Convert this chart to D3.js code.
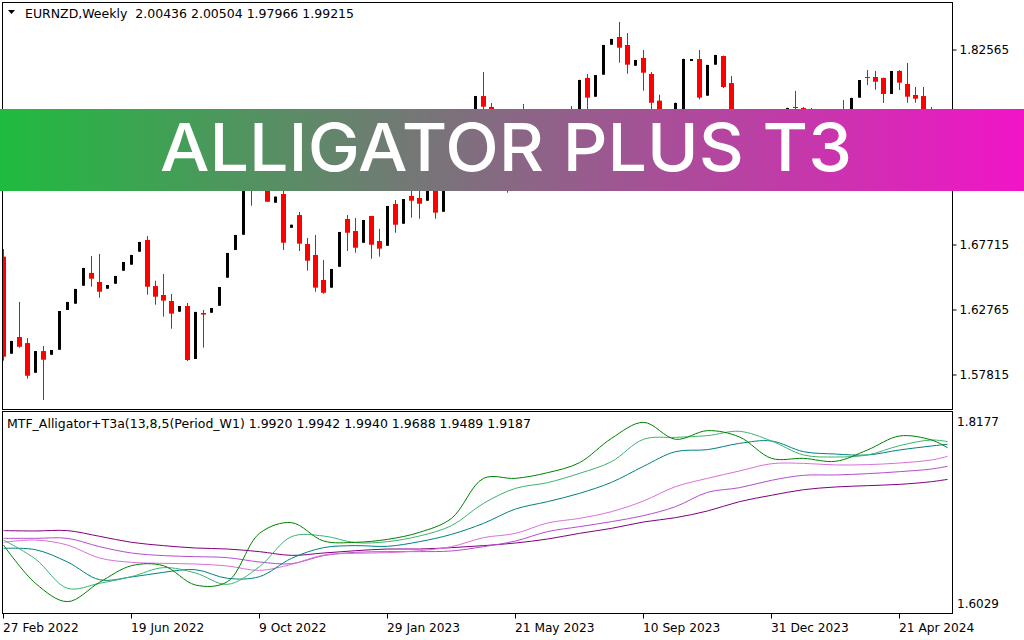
<!DOCTYPE html>
<html><head><meta charset="utf-8">
<script src="https://cdn.jsdelivr.net/npm/d3@7"></script>
<style>body{margin:0;background:#fff;}svg{display:block}</style>
</head><body>
<svg id="c" width="1024" height="640"></svg>
<script>
// ---------- DATA ----------
const symbolTitle = "EURNZD,Weekly  2.00436 2.00504 1.97966 1.99215";
const indicatorTitle = "MTF_Alligator+T3a(13,8,5(Period_W1) 1.9920 1.9942 1.9940 1.9688 1.9489 1.9187";
const bannerText = "ALLIGATOR PLUS T3";

const openP = [1.6679,1.5940,1.6067,1.6021,1.5795,1.5960,1.5932,1.5970,1.6273,1.6321,
1.6458,1.6555,1.6486,1.6435,1.6473,1.6572,1.6618,1.6717,1.6806,1.6455,
1.6387,1.6341,1.6260,1.6303,1.5900,1.6250,1.6252,1.6305,1.6519,1.6730,
1.6846,1.7324,1.7217,1.7354,1.7090,1.7156,1.6899,1.6996,1.6775,1.6692,
1.6501,1.6443,1.6602,1.6966,1.6874,1.6785,1.6989,1.6798,1.6762,1.7080,
1.6930,1.7141,1.7126,1.7105,1.7278,1.7021,1.7415,1.7567,1.7491,1.7682,
1.7902,1.7819,1.7659,1.7491,1.7301,1.7720,1.7491,1.7567,1.7644,1.7529,
1.7644,1.7758,1.7644,1.8040,1.7897,1.8065,1.8293,1.8352,1.8291,1.8133,
1.8192,1.8070,1.7867,1.7644,1.7682,1.7781,1.8169,1.8184,1.7905,1.8141,
1.8207,1.8001,1.7644,1.7529,1.7605,1.7453,1.7567,1.7529,1.7720,1.7819,
1.7811,1.7720,1.7682,1.7735,1.7644,1.7781,1.7682,1.7890,1.8047,1.8047,
1.8040,1.7918,1.8093,1.7994,1.7910,1.7902,1.7735];
const highP = [1.6737,1.6037,1.6334,1.6059,1.5960,1.5999,1.5968,1.6265,1.6334,1.6433,
1.6593,1.6684,1.6699,1.6463,1.6532,1.6638,1.6692,1.6791,1.6836,1.6496,
1.6547,1.6395,1.6303,1.6326,1.6258,1.6273,1.6288,1.6448,1.6707,1.6844,
1.7278,1.7377,1.7415,1.7415,1.7136,1.7248,1.6922,1.7019,1.6821,1.6844,
1.6654,1.6585,1.6867,1.6996,1.6973,1.6958,1.6989,1.6890,1.7065,1.7110,
1.7118,1.7225,1.7225,1.7310,1.7324,1.7453,1.7605,1.7644,1.7720,1.7903,
1.8085,1.7849,1.7735,1.7567,1.7758,1.7842,1.7605,1.7682,1.7720,1.7682,
1.7758,1.7826,1.8026,1.8070,1.8062,1.8291,1.8337,1.8466,1.8382,1.8177,
1.8253,1.8085,1.7912,1.7758,1.7852,1.8186,1.8184,1.8253,1.8139,1.8215,
1.8210,1.8055,1.7720,1.7659,1.7682,1.7605,1.7644,1.7735,1.7813,1.7941,
1.7819,1.7811,1.7758,1.7781,1.7796,1.7872,1.7889,1.8024,1.8100,1.8093,
1.8042,1.8093,1.8100,1.8154,1.7971,1.7971,1.7819];
const lowP = [1.5887,1.5940,1.5986,1.5750,1.5795,1.5587,1.5932,1.5970,1.6273,1.6321,
1.6458,1.6450,1.6366,1.6435,1.6473,1.6572,1.6618,1.6717,1.6389,1.6313,
1.6222,1.6130,1.6260,1.5884,1.5900,1.5986,1.6252,1.6305,1.6519,1.6730,
1.6846,1.7067,1.7202,1.7095,1.7090,1.6730,1.6899,1.6722,1.6572,1.6412,
1.6397,1.6443,1.6602,1.6722,1.6709,1.6785,1.6663,1.6679,1.6762,1.6861,
1.6930,1.6976,1.6968,1.7105,1.6968,1.7021,1.7377,1.7430,1.7453,1.7659,
1.7758,1.7605,1.7491,1.7166,1.7263,1.7415,1.7377,1.7491,1.7453,1.7491,
1.7605,1.7567,1.7605,1.7758,1.7897,1.8065,1.8293,1.8156,1.8072,1.8133,
1.7943,1.7758,1.7567,1.7529,1.7659,1.7758,1.8169,1.7877,1.7905,1.8141,
1.7963,1.7605,1.7491,1.7491,1.7415,1.7377,1.7491,1.7506,1.7682,1.7735,
1.7659,1.7605,1.7644,1.7605,1.7605,1.7644,1.7659,1.7890,1.7986,1.7950,
1.7849,1.7918,1.7948,1.7851,1.7851,1.7682,1.7682];
const closeP = [1.5917,1.6037,1.5993,1.5772,1.5960,1.5894,1.5968,1.6265,1.6334,1.6433,
1.6593,1.6511,1.6412,1.6463,1.6532,1.6638,1.6692,1.6791,1.6450,1.6374,
1.6344,1.6245,1.6303,1.5892,1.6258,1.6238,1.6288,1.6448,1.6707,1.6844,
1.7263,1.7202,1.7377,1.7097,1.7136,1.6785,1.6922,1.6778,1.6648,1.6443,
1.6404,1.6585,1.6867,1.6861,1.6747,1.6958,1.6770,1.6740,1.7065,1.6922,
1.7118,1.7105,1.7082,1.7301,1.7014,1.7415,1.7567,1.7491,1.7682,1.7902,
1.7821,1.7659,1.7529,1.7301,1.7720,1.7491,1.7567,1.7644,1.7529,1.7644,
1.7720,1.7644,1.8024,1.7890,1.8062,1.8291,1.8337,1.8270,1.8141,1.8177,
1.8080,1.7851,1.7644,1.7682,1.7849,1.8184,1.8184,1.7890,1.8139,1.8215,
1.7971,1.7644,1.7529,1.7605,1.7453,1.7567,1.7529,1.7720,1.7811,1.7811,
1.7720,1.7682,1.7735,1.7644,1.7758,1.7682,1.7887,1.8024,1.8040,1.8011,
1.7918,1.8093,1.8004,1.7897,1.7882,1.7735,1.7720];

const priceTicks = [1.82565,1.77615,1.72665,1.67715,1.62765,1.57815];
const dateTickIdx = [0,16,32,48,64,80,96,112];
const dateTickLabels = ["27 Feb 2022","19 Jun 2022","9 Oct 2022","29 Jan 2023","21 May 2023","10 Sep 2023","31 Dec 2023","21 Apr 2024"];
const indLabels = [1.8177,1.6029];

// indicator lines sampled every 4 weekly bars (bar index)
const indIdx = [0,4,8,12,16,20,24,28,32,36,40,44,48,52,56,60,64,68,72,76,80,84,88,92,96,100,104,108,112,116,118];
const lipsFast = [1.6719,1.6267,1.6051,1.6279,1.6475,1.6475,1.6247,1.6287,1.6857,1.6983,1.6767,1.6751,1.6786,1.6869,1.7034,1.7506,1.7506,1.7573,1.7691,1.7978,1.8167,1.7967,1.8069,1.7994,1.7742,1.7742,1.7707,1.7841,1.8006,1.7959,1.7868];
const teethFast = [1.6778,1.6554,1.6208,1.6267,1.6346,1.6452,1.6389,1.6255,1.6464,1.6818,1.6826,1.6747,1.6759,1.6826,1.6948,1.7211,1.7388,1.7455,1.7565,1.7703,1.7967,1.7990,1.8010,1.8061,1.7947,1.7782,1.7758,1.7782,1.7892,1.7959,1.7939];
const jawFast = [1.6680,1.6664,1.6519,1.6310,1.6342,1.6397,1.6428,1.6326,1.6346,1.6562,1.6688,1.6712,1.6704,1.6759,1.6845,1.6975,1.7144,1.7231,1.7329,1.7459,1.7648,1.7821,1.7845,1.7919,1.7947,1.7821,1.7793,1.7782,1.7841,1.7888,1.7908];
const lipsT3 = [1.6751,1.6778,1.6719,1.6566,1.6515,1.6503,1.6495,1.6472,1.6420,1.6491,1.6601,1.6621,1.6629,1.6652,1.6700,1.6806,1.6857,1.6979,1.7034,1.7113,1.7239,1.7408,1.7506,1.7593,1.7679,1.7683,1.7664,1.7668,1.7687,1.7723,1.7766];
const teethT3 = [1.6798,1.6798,1.6798,1.6700,1.6625,1.6594,1.6582,1.6570,1.6519,1.6499,1.6594,1.6633,1.6641,1.6641,1.6649,1.6700,1.6767,1.6877,1.6936,1.6995,1.7066,1.7172,1.7341,1.7396,1.7483,1.7542,1.7546,1.7561,1.7585,1.7616,1.7648];
const jawT3 = [1.6889,1.6885,1.6889,1.6822,1.6751,1.6712,1.6684,1.6672,1.6641,1.6597,1.6625,1.6652,1.6672,1.6672,1.6688,1.6712,1.6743,1.6790,1.6857,1.6916,1.6991,1.7042,1.7121,1.7231,1.7306,1.7372,1.7404,1.7420,1.7435,1.7467,1.7494];

const seriesList = [
  {vals: jawT3, color: "#800080"},
  {vals: teethT3, color: "#B54CCF"},
  {vals: lipsT3, color: "#DA70D6"},
  {vals: jawFast, color: "#008080"},
  {vals: teethFast, color: "#3CB371"},
  {vals: lipsFast, color: "#008000"}
];

// ---------- CHART ----------
const svg = d3.select("#c");
const FONT = "DejaVu Sans, Verdana, sans-serif";
const paneL = 2.5, paneR = 952.5, mainT = 2.5, mainB = 409.5, indT = 411.5, indB = 613.5;

const x = d3.scaleLinear().domain([0, 118]).range([3.5, 947.5]);
const y = d3.scaleLinear().domain([1.57815, 1.82565]).range([374.5, 49.5]);
const yi = d3.scaleLinear().domain([1.6029, 1.8177]).range([603.5, 421.5]);

svg.append("rect").attr("width",1024).attr("height",640).attr("fill","#fff");

const defs = svg.append("defs");
defs.append("clipPath").attr("id","mainClip").append("rect")
  .attr("x",paneL+0.5).attr("y",mainT+0.5).attr("width",paneR-paneL-1).attr("height",mainB-mainT-1);
defs.append("clipPath").attr("id","indClip").append("rect")
  .attr("x",paneL+0.5).attr("y",indT+0.5).attr("width",paneR-paneL-1).attr("height",indB-indT-1);

// candles
const candles = openP.map((o,i)=>({i, o, h: highP[i], l: lowP[i], c: closeP[i]}));
const cg = svg.append("g").attr("clip-path","url(#mainClip)");
candles.forEach(d=>{
  const cx = x(d.i);
  const bull = d.c >= d.o;
  const col = bull ? "#000000" : "#ff0000";
  cg.append("rect").attr("x",cx-0.5).attr("width",1)
    .attr("y",y(d.h)).attr("height",Math.max(1,y(d.l)-y(d.h))).attr("fill",col);
  const top = y(Math.max(d.o,d.c)), bot = y(Math.min(d.o,d.c));
  const w = bull ? 3 : 5;
  cg.append("rect").attr("x",cx-w/2).attr("width",w)
    .attr("y",top).attr("height",Math.max(1,bot-top)).attr("fill",col);
});

// indicator lines
const ig = svg.append("g").attr("clip-path","url(#indClip)");
seriesList.forEach(s=>{
  const line = d3.line().x((v,k)=>x(indIdx[k])).y(v=>yi(v)).curve(d3.curveCatmullRom.alpha(0.5));
  ig.append("path").attr("d",line(s.vals)).attr("fill","none")
    .attr("stroke",s.color).attr("stroke-width",1);
});

// pane borders
svg.append("rect").attr("x",paneL).attr("y",mainT).attr("width",paneR-paneL).attr("height",mainB-mainT)
  .attr("fill","none").attr("stroke","#000").attr("stroke-width",1);
svg.append("rect").attr("x",paneL).attr("y",indT).attr("width",paneR-paneL).attr("height",indB-indT)
  .attr("fill","none").attr("stroke","#000").attr("stroke-width",1);

// price axis
const pa = svg.append("g").attr("transform",`translate(${paneR},0)`);
const priceAxis = d3.axisRight(y).tickValues(priceTicks).tickSize(4).tickPadding(3)
  .tickFormat(d3.format(".5f"));
pa.call(priceAxis);
pa.select(".domain").remove();
pa.selectAll(".tick line").attr("stroke","#000").attr("x1",0).attr("x2",4);
pa.selectAll(".tick text").attr("font-family",FONT).attr("font-size",12).attr("fill","#000");

// indicator scale labels
svg.append("g").selectAll("text").data(indLabels).join("text")
  .attr("x",paneR+4.5).attr("y",d=>yi(d)).attr("dy","0.36em")
  .attr("font-family",FONT).attr("font-size",12).attr("fill","#000")
  .text(d=>d3.format(".4f")(d));

// time axis
const ta = svg.append("g").attr("transform",`translate(0,${indB})`);
const timeAxis = d3.axisBottom(x).tickValues(dateTickIdx).tickSize(5).tickPadding(5)
  .tickFormat((d,k)=>dateTickLabels[k]);
ta.call(timeAxis);
ta.select(".domain").remove();
ta.selectAll(".tick line").attr("stroke","#000").attr("transform","translate(-0.5,0)");
ta.selectAll(".tick text").attr("font-family",FONT).attr("font-size",12.2).attr("fill","#000")
  .attr("text-anchor","start").attr("x",-1);

// titles
svg.append("path").attr("d","M8,10 L15,10 L11.5,14 Z").attr("fill","#000");
svg.append("text").attr("x",25).attr("y",18).attr("font-family",FONT).attr("font-size",12.5)
  .attr("fill","#000").attr("xml:space","preserve").style("white-space","pre").text(symbolTitle);
svg.append("text").attr("x",7).attr("y",428).attr("font-family",FONT).attr("font-size",12.5)
  .attr("fill","#000").text(indicatorTitle);

// banner
const grad = defs.append("linearGradient").attr("id","bannerGrad")
  .attr("x1","0%").attr("x2","100%").attr("y1","0%").attr("y2","0%");
grad.append("stop").attr("offset","0%").attr("stop-color","#1fbb3f");
grad.append("stop").attr("offset","100%").attr("stop-color","#f214c8");
svg.append("rect").attr("x",0).attr("y",109).attr("width",1024).attr("height",82)
  .attr("fill","url(#bannerGrad)");
svg.append("text").attr("x",160).attr("y",171)
  .attr("font-family","Inter, Lato, 'Open Sans', sans-serif").attr("font-weight",500)
  .attr("font-size",66).attr("fill","#fff")
  .attr("textLength",692).attr("lengthAdjust","spacingAndGlyphs")
  .text(bannerText);
</script>
</body></html>
